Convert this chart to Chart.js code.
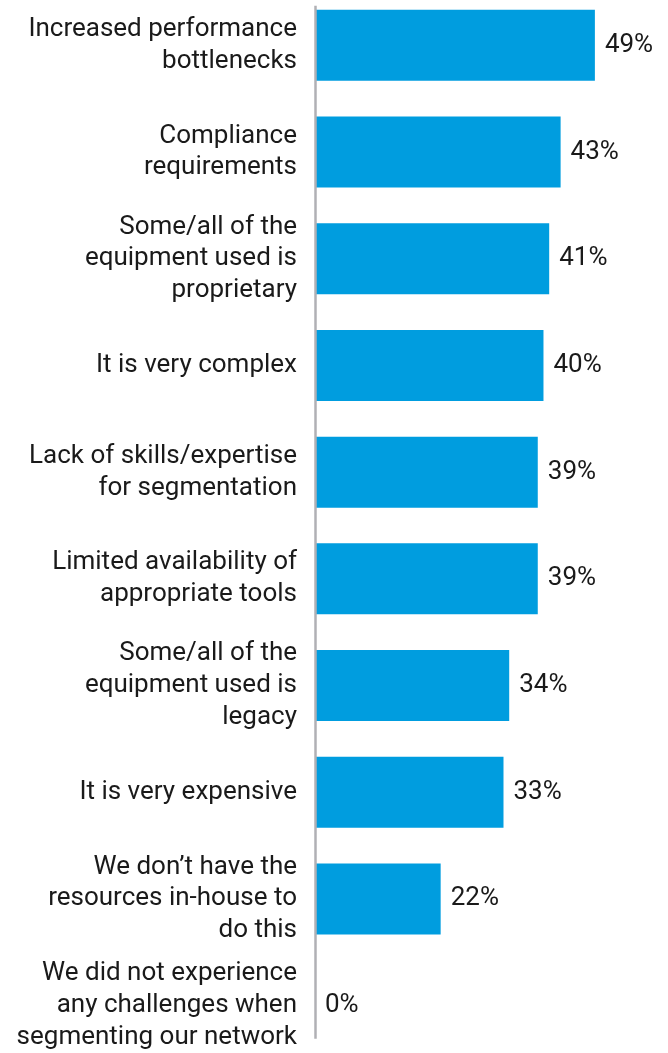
<!DOCTYPE html>
<html>
<head>
<meta charset="utf-8">
<script src="https://cdn.jsdelivr.net/npm/chart.js@4.4.1/dist/chart.umd.min.js"></script>
<style>
  html, body { margin: 0; padding: 0; background: #ffffff; overflow: hidden; }
  body { width: 668px; height: 1053px; position: relative; }
  #wrap { position: absolute; left: 0; top: -8px; width: 668px; height: 1067px; }
</style>
</head>
<body>
<div id="wrap"><canvas id="c"></canvas></div>
<script>
const categories = [
  ["Increased performance", "bottlenecks"],
  ["Compliance", "requirements"],
  ["Some/all of the", "equipment used is", "proprietary"],
  ["It is very complex"],
  ["Lack of skills/expertise", "for segmentation"],
  ["Limited availability of", "appropriate tools"],
  ["Some/all of the", "equipment used is", "legacy"],
  ["It is very expensive"],
  ["We don\u2019t have the", "resources in-house to", "do this"],
  ["We did not experience", "any challenges when", "segmenting our network"]
];
const values = [49, 43, 41, 40, 39, 39, 34, 33, 22, 0];
const valueLabels = ["49%", "43%", "41%", "40%", "39%", "39%", "34%", "33%", "22%", "0%"];

const FONT = "Roboto, 'Noto Sans', sans-serif";

const overlay = {
  id: 'overlay',
  afterDatasetsDraw(chart) {
    const ctx = chart.ctx;
    const ys = chart.scales.y, xs = chart.scales.x;
    const band = ys.getPixelForValue(1) - ys.getPixelForValue(0);
    const x0 = xs.getPixelForValue(0);
    ctx.save();
    ctx.strokeStyle = '#b0b0b5';
    ctx.lineWidth = 2.5;
    ctx.beginPath();
    ctx.moveTo(x0 + 0.5, ys.getPixelForValue(0) - band * 0.37);
    ctx.lineTo(x0 + 0.5, ys.getPixelForValue(values.length - 1) + band * 0.31);
    ctx.stroke();
    const meta = chart.getDatasetMeta(0);
    ctx.fillStyle = '#1a1a1a';
    ctx.font = '26px ' + FONT;
    ctx.textAlign = 'left';
    ctx.textBaseline = 'middle';
    meta.data.forEach((el, i) => {
      ctx.fillText(valueLabels[i], el.x + 10, el.y);
    });
    ctx.restore();
  }
};

new Chart(document.getElementById('c'), {
  type: 'bar',
  data: {
    labels: categories,
    datasets: [{
      data: values,
      backgroundColor: '#009ddf',
      borderWidth: 0,
      barPercentage: 0.665,
      categoryPercentage: 1.0
    }]
  },
  options: {
    indexAxis: 'y',
    responsive: true,
    maintainAspectRatio: false,
    animation: false,
    layout: { padding: 0 },
    plugins: { legend: { display: false }, tooltip: { enabled: false } },
    scales: {
      x: { display: false, min: 0, max: 61.8 },
      y: {
        afterFit(scale) {
          scale.width = 315;
          scale.paddingTop = 0;
          scale.paddingBottom = 0;
        },
        border: { display: false },
        grid: { display: false, drawTicks: false },
        ticks: {
          autoSkip: false,
          padding: 18,
          color: '#1a1a1a',
          font: { family: FONT, size: 26, lineHeight: 1.22 }
        }
      }
    }
  },
  plugins: [overlay]
});
</script>
</body>
</html>
